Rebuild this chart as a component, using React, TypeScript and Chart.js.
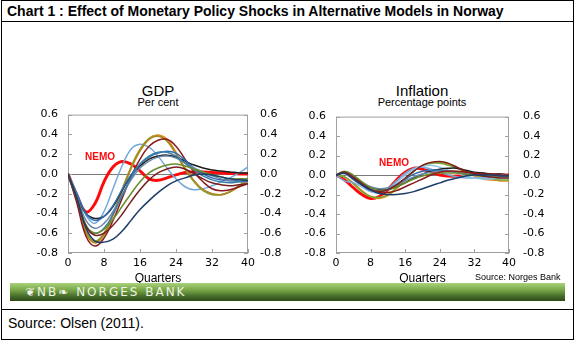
import React, { useEffect, useRef } from "react";
import { Chart, registerables } from "chart.js";

Chart.register(...registerables);

const quarters = [0, 2, 4, 6, 8, 10, 12, 14, 16, 18, 20, 22, 24, 26, 28, 30, 32, 34, 36, 38, 40];
const yTickLabels = ["0.6", "0.4", "0.2", "0.0", "-0.2", "-0.4", "-0.6", "-0.8"];

// GDP responses (per cent)
const gdpNemo = [0, -0.22, -0.385, -0.3, -0.08, 0.07, 0.125, 0.1, 0.03, -0.05, -0.065, -0.04, -0.01, 0.015, 0.02, 0.02, 0.015, 0.01, 0.005, 0, 0];
const gdpLightBlue = [0, -0.2, -0.42, -0.5, -0.38, -0.15, 0.08, 0.25, 0.3, 0.27, 0.18, 0.06, -0.05, -0.13, -0.16, -0.15, -0.12, -0.08, -0.04, 0.01, 0.07];
const gdpOrange = [0, -0.28, -0.6, -0.7, -0.62, -0.42, -0.18, 0.05, 0.23, 0.35, 0.39, 0.35, 0.22, 0.06, -0.07, -0.16, -0.2, -0.21, -0.18, -0.13, -0.07];
const gdpGreen = [0, -0.27, -0.58, -0.68, -0.6, -0.4, -0.16, 0.07, 0.25, 0.36, 0.39, 0.34, 0.21, 0.05, -0.08, -0.17, -0.21, -0.21, -0.18, -0.12, -0.05];
const gdpGold = [0, -0.28, -0.59, -0.69, -0.61, -0.41, -0.17, 0.06, 0.24, 0.35, 0.38, 0.33, 0.2, 0.05, -0.07, -0.16, -0.2, -0.21, -0.18, -0.12, -0.06];
const gdpDarkRed = [0, -0.3, -0.63, -0.73, -0.65, -0.47, -0.25, -0.03, 0.15, 0.28, 0.34, 0.35, 0.28, 0.15, 0.02, -0.08, -0.15, -0.17, -0.16, -0.13, -0.1];
const gdpBlack = [0, -0.22, -0.4, -0.45, -0.43, -0.33, -0.17, -0.02, 0.08, 0.15, 0.18, 0.19, 0.17, 0.13, 0.09, 0.06, 0.04, 0.03, 0.02, 0.01, 0.01];
const gdpMedBlue = [0, -0.2, -0.4, -0.47, -0.43, -0.32, -0.16, -0.01, 0.1, 0.17, 0.21, 0.23, 0.21, 0.14, 0.06, 0, -0.04, -0.06, -0.07, -0.06, -0.05];
const gdpSteel = [0, -0.23, -0.47, -0.55, -0.5, -0.38, -0.22, -0.06, 0.06, 0.13, 0.17, 0.18, 0.16, 0.11, 0.06, 0.02, -0.02, -0.05, -0.07, -0.08, -0.08];
const gdpOlive = [0, -0.25, -0.52, -0.6, -0.56, -0.46, -0.33, -0.2, -0.08, 0.01, 0.06, 0.09, 0.1, 0.08, 0.05, 0.02, -0.01, -0.03, -0.05, -0.05, -0.05];
const gdpMaroon = [0, -0.25, -0.53, -0.62, -0.6, -0.52, -0.41, -0.28, -0.16, -0.06, 0.01, 0.05, 0.07, 0.05, 0, -0.05, -0.09, -0.11, -0.12, -0.11, -0.1];
const gdpNavy = [0, -0.25, -0.55, -0.68, -0.69, -0.66, -0.58, -0.47, -0.36, -0.27, -0.19, -0.12, -0.07, -0.04, -0.01, 0, -0.01, -0.03, -0.05, -0.06, -0.07];
const gdpTeal = [0, -0.25, -0.52, -0.6, -0.55, -0.41, -0.22, -0.04, 0.1, 0.18, 0.22, 0.22, 0.18, 0.11, 0.04, -0.02, -0.06, -0.08, -0.09, -0.08, -0.07];

// Inflation responses (percentage points)
const infNemo = [0, -0.05, -0.13, -0.2, -0.24, -0.22, -0.15, -0.05, 0.03, 0.07, 0.06, 0.03, 0, -0.01, -0.01, 0, 0.01, 0.01, 0, 0, 0];
const infBlack = [0, 0.03, -0.02, -0.08, -0.13, -0.15, -0.15, -0.12, -0.08, -0.03, 0.01, 0.04, 0.06, 0.07, 0.07, 0.05, 0.03, 0.02, 0.01, 0.01, 0];
const infOlive = [0, 0.04, 0, -0.07, -0.13, -0.16, -0.15, -0.12, -0.08, -0.04, -0.01, 0.01, 0.02, 0.02, 0.02, 0.01, 0, -0.01, -0.01, -0.01, -0.01];
const infNavy = [0, 0.02, -0.04, -0.1, -0.15, -0.19, -0.2, -0.2, -0.19, -0.17, -0.14, -0.11, -0.08, -0.05, -0.03, -0.01, 0, 0, 0, -0.01, -0.01];
const infOrange = [0, -0.02, -0.08, -0.16, -0.22, -0.24, -0.21, -0.14, -0.05, 0.04, 0.1, 0.13, 0.13, 0.11, 0.07, 0.03, -0.01, -0.04, -0.05, -0.06, -0.06];
const infGreen = [0, -0.02, -0.09, -0.17, -0.22, -0.23, -0.2, -0.13, -0.04, 0.04, 0.1, 0.12, 0.12, 0.1, 0.07, 0.03, 0, -0.02, -0.04, -0.05, -0.05];
const infLightBlue = [0, -0.06, -0.08, -0.12, -0.17, -0.18, -0.14, -0.06, 0.02, 0.07, 0.08, 0.06, 0.03, 0, -0.02, -0.03, -0.03, -0.03, -0.02, -0.02, -0.02];
const infMedBlue = [0, 0.02, -0.03, -0.1, -0.16, -0.17, -0.15, -0.1, -0.04, 0.01, 0.04, 0.05, 0.05, 0.04, 0.03, 0.02, 0.01, 0, 0, 0, 0];
const infDarkRed = [0, 0.03, -0.02, -0.09, -0.15, -0.18, -0.18, -0.16, -0.12, -0.08, -0.04, 0, 0.03, 0.04, 0.04, 0.03, 0.02, 0.01, 0.01, 0, 0];
const infMaroon = [0, 0.02, -0.04, -0.1, -0.15, -0.17, -0.15, -0.1, -0.03, 0.04, 0.1, 0.13, 0.14, 0.12, 0.08, 0.04, 0.01, -0.01, -0.02, -0.03, -0.03];
const infSky = [0, 0.01, -0.05, -0.12, -0.17, -0.18, -0.15, -0.08, 0, 0.06, 0.09, 0.1, 0.08, 0.05, 0.02, -0.01, -0.03, -0.04, -0.04, -0.03, -0.03];
const infSteel = [0, 0.03, -0.01, -0.07, -0.12, -0.14, -0.13, -0.1, -0.06, -0.02, 0.01, 0.03, 0.04, 0.04, 0.03, 0.02, 0.01, 0, 0, 0, 0];

const C = {
  red: "#ff0a0a",
  lightBlue: "#74a7dc",
  orange: "#dc8a1c",
  green: "#78a834",
  gold: "#a68a2c",
  darkRed: "#8c1c1c",
  black: "#1c1c1c",
  medBlue: "#2f6db2",
  steel: "#6b88aa",
  olive: "#6b8c2a",
  maroon: "#7a1f1f",
  navy: "#1d3c68",
  teal: "#3a7ea8",
  sky: "#8ec3e8",
};

const FONT = "'Liberation Sans', Arial, Helvetica, sans-serif";
const TICK_FONT = "'DejaVu Sans', Verdana, sans-serif";

function series(values: number[], color: string, width = 1.5) {
  return {
    data: quarters.map((q, i) => ({ x: q, y: values[i] })),
    borderColor: color,
    borderWidth: width,
    pointRadius: 0,
    tension: 0.4,
    fill: false,
  };
}

const gdpDatasets = () => [
  series(gdpNavy, C.navy),
  series(gdpMaroon, C.maroon),
  series(gdpOlive, C.olive),
  series(gdpTeal, C.teal),
  series(gdpSteel, C.steel),
  series(gdpMedBlue, C.medBlue),
  series(gdpBlack, C.black),
  series(gdpDarkRed, C.darkRed),
  series(gdpGold, C.gold),
  series(gdpOrange, C.orange),
  series(gdpGreen, C.green),
  series(gdpLightBlue, C.lightBlue),
  series(gdpNemo, C.red, 3),
];

const infDatasets = () => [
  series(infNavy, C.navy),
  series(infDarkRed, C.darkRed),
  series(infMaroon, C.maroon),
  series(infOlive, C.olive),
  series(infSteel, C.steel),
  series(infMedBlue, C.medBlue),
  series(infBlack, C.black),
  series(infSky, C.sky),
  series(infLightBlue, C.lightBlue),
  series(infGreen, C.green),
  series(infOrange, C.orange),
  series(infNemo, C.red, 3),
];

const framePlugin = {
  id: "frame",
  beforeDatasetsDraw(chart: any) {
    const { ctx, chartArea: a, scales } = chart;
    const y = scales.y;
    const x = scales.x;
    ctx.save();
    ctx.lineWidth = 1;
    ctx.strokeStyle = "#7a7a7a";
    const z = Math.round(y.getPixelForValue(0)) + 0.5;
    ctx.beginPath();
    ctx.moveTo(a.left, z);
    ctx.lineTo(a.right, z);
    ctx.stroke();
    ctx.strokeStyle = "#a0a0a0";
    ctx.strokeRect(a.left + 0.5, a.top + 0.5, a.right - a.left - 1, a.bottom - a.top - 1);
    ctx.beginPath();
    y.ticks.forEach((t: any) => {
      const py = Math.round(y.getPixelForValue(t.value)) + 0.5;
      ctx.moveTo(a.left, py);
      ctx.lineTo(a.left + 4, py);
      ctx.moveTo(a.right - 4, py);
      ctx.lineTo(a.right, py);
    });
    x.ticks.forEach((t: any) => {
      const px = Math.round(x.getPixelForValue(t.value)) + 0.5;
      ctx.moveTo(px, a.bottom);
      ctx.lineTo(px, a.bottom - 4);
    });
    ctx.stroke();
    ctx.restore();
  },
};

function yAxis(position: "left" | "right", width: number, padding: number) {
  return {
    type: "linear",
    position,
    min: -0.8,
    max: 0.6,
    afterFit: (s: any) => {
      s.width = width;
    },
    afterBuildTicks: (s: any) => {
      s.ticks = yTickLabels.map((l) => ({ value: parseFloat(l) }));
    },
    grid: { display: false, drawTicks: false },
    border: { display: false },
    ticks: {
      padding,
      color: "#000",
      font: { family: TICK_FONT, size: 11 },
      callback: (v: number) => v.toFixed(1),
    },
  };
}

function Panel(props: {
  datasets: () => any[];
  left: number;
  top: number;
  width: number;
  height: number;
  leftW: number;
  rightW: number;
  leftPad: number;
  rightPad: number;
}) {
  const ref = useRef<HTMLCanvasElement>(null);
  useEffect(() => {
    if (!ref.current) return;
    const chart = new Chart(ref.current, {
      type: "line",
      data: { datasets: props.datasets() },
      options: {
        animation: false,
        responsive: false,
        maintainAspectRatio: false,
        layout: { padding: { top: 0, bottom: 0, left: 0, right: 0 } },
        plugins: { legend: { display: false }, tooltip: { enabled: false } },
        scales: {
          x: {
            type: "linear",
            min: 0,
            max: 40,
            afterFit: (s: any) => {
              s.height = 33;
            },
            grid: { display: false, drawTicks: false },
            border: { display: false },
            ticks: {
              stepSize: 8,
              padding: 4,
              maxRotation: 0,
              color: "#000",
              font: { family: TICK_FONT, size: 11 },
            },
            title: {
              display: true,
              text: "Quarters",
              color: "#000",
              font: { family: FONT, size: 12 },
              padding: { top: 0, bottom: 0 },
            },
          },
          y: yAxis("left", props.leftW, props.leftPad),
          y2: yAxis("right", props.rightW, props.rightPad),
        },
      } as any,
      plugins: [framePlugin],
    });
    return () => chart.destroy();
  }, []);
  return (
    <canvas
      ref={ref}
      width={props.width}
      height={props.height}
      style={{ position: "absolute", left: props.left, top: props.top, width: props.width, height: props.height }}
    />
  );
}

const text = (s: any): React.CSSProperties => ({
  position: "absolute",
  fontFamily: FONT,
  color: "#000",
  whiteSpace: "nowrap",
  lineHeight: 1,
  ...s,
});

export default function App() {
  return (
    <div style={{ position: "absolute", left: 0, top: 0, width: 575, height: 341, background: "#fff", overflow: "hidden" }}>
      <div style={{ position: "absolute", left: 1, top: 0, width: 571, height: 338, border: "1px solid #000" }} />
      <div style={{ position: "absolute", left: 1, top: 21, width: 573, height: 1, background: "#000" }} />
      <div style={{ position: "absolute", left: 1, top: 309, width: 573, height: 1, background: "#000" }} />
      <div style={text({ left: 7, top: 4, fontSize: 14, fontWeight: "bold" })}>
        Chart 1 : Effect of Monetary Policy Shocks in Alternative Models in Norway
      </div>

      <div style={text({ left: 108, width: 100, top: 83, fontSize: 15, textAlign: "center" })}>GDP</div>
      <div style={text({ left: 108, width: 100, top: 97, fontSize: 11, textAlign: "center" })}>Per cent</div>
      <div style={text({ left: 362, width: 120, top: 83, fontSize: 15, textAlign: "center" })}>Inflation</div>
      <div style={text({ left: 362, width: 120, top: 97, fontSize: 11, textAlign: "center" })}>Percentage points</div>

      <Panel datasets={gdpDatasets} left={20} top={96} width={270} height={190} leftW={48} rightW={42} leftPad={10} rightPad={12} />
      <Panel datasets={infDatasets} left={290} top={96} width={285} height={190} leftW={46} rightW={66} leftPad={10} rightPad={14} />

      <div style={text({ left: 85, top: 152, fontSize: 10, fontWeight: "bold", color: "#ff0a0a" })}>NEMO</div>
      <div style={text({ left: 379, top: 158, fontSize: 10, fontWeight: "bold", color: "#ff0a0a" })}>NEMO</div>

      <div style={text({ left: 475, top: 273, fontSize: 9 })}>Source: Norges Bank</div>

      <div
        style={{
          position: "absolute",
          left: 10,
          top: 283,
          width: 555,
          height: 18,
          background: "linear-gradient(to bottom, #a9d27a 0%, #77a546 40%, #44692a 75%, #2e4a16 100%)",
        }}
      />
      <div
        style={text({
          left: 25,
          top: 286,
          fontSize: 12,
          color: "#eef3e6",
          letterSpacing: 2.0,
          fontFamily: "'DejaVu Sans', 'Liberation Sans', sans-serif",
        })}
      >
        ❦NB❧ NORGES BANK
      </div>

      <div style={text({ left: 8, top: 316, fontSize: 14 })}>Source: Olsen (2011).</div>
    </div>
  );
}
